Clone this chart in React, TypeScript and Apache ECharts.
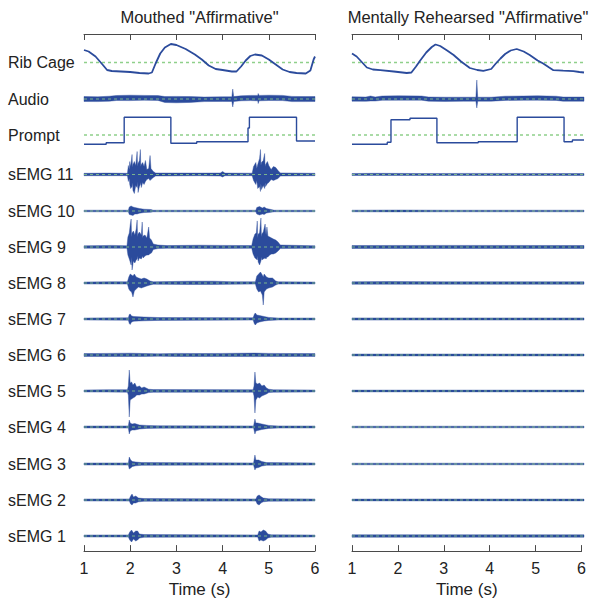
import React, { useEffect, useRef } from "react";
import * as echarts from "echarts";

// ---------- data ----------
const TICKS = [1, 2, 3, 4, 5, 6];
const ROW_LABELS = ["Rib Cage", "Audio", "Prompt", "sEMG 11", "sEMG 10", "sEMG 9", "sEMG 8", "sEMG 7", "sEMG 6", "sEMG 5", "sEMG 4", "sEMG 3", "sEMG 2", "sEMG 1"];
const TITLES = ['Mouthed "Affirmative"', 'Mentally Rehearsed "Affirmative"'];

// Rib cage traces [t, value]
const RIB_L = [[1,12.5],[1.1,11],[1.25,6],[1.4,-2],[1.5,-7.5],[1.6,-8.5],[1.8,-9],[2.0,-9.5],[2.2,-10.5],[2.4,-11],[2.47,-10],[2.55,-1],[2.65,9],[2.75,15],[2.88,18.5],[3.0,17.5],[3.2,13.5],[3.4,8],[3.55,3],[3.7,-3],[3.85,-6.5],[4.0,-7.5],[4.2,-9],[4.3,-9],[4.4,-4],[4.5,2],[4.6,6.5],[4.7,8],[4.85,7],[5.0,3],[5.15,-2],[5.3,-7],[5.45,-9.5],[5.6,-10.5],[5.8,-11],[5.9,-8],[5.97,3],[6,6]];
const RIB_R = [[1,9],[1.1,6],[1.2,1],[1.32,-5],[1.45,-7],[1.61,-7.7],[1.9,-9],[2.18,-10.5],[2.28,-10],[2.38,-4],[2.47,2],[2.6,10],[2.72,15.5],[2.8,18],[2.9,16.5],[3.05,12],[3.19,7.5],[3.35,1],[3.54,-5.5],[3.7,-7.5],[3.83,-8.4],[4.0,-6.5],[4.1,-1],[4.2,4],[4.3,8.5],[4.42,12],[4.55,13.5],[4.7,11],[4.83,7.5],[5.0,2],[5.12,-1],[5.25,-5],[5.34,-7.7],[5.55,-8.2],[5.77,-8.7],[5.9,-9.5],[6,-10]];

// Prompt step traces [t, value]
const PROMPT_L = [[1,-9.3],[1.48,-9.3],[1.48,-7.7],[1.87,-7.7],[1.87,17.7],[2.88,17.7],[2.88,-8.3],[3.44,-8.3],[3.44,-6.7],[4.55,-6.7],[4.55,7],[4.58,7],[4.58,17.7],[5.6,17.7],[5.6,-6],[6,-6]];
const PROMPT_R = [[1,-9.3],[1.76,-9.3],[1.76,-7.3],[1.84,-7.3],[1.84,15.3],[2.25,15.3],[2.25,16.7],[2.83,16.7],[2.83,-7.7],[3.72,-7.7],[3.72,-6.7],[4.56,-6.7],[4.56,17.7],[5.57,17.7],[5.57,-6.7],[5.75,-6.7],[5.75,-5],[6,-5]];

// Envelopes [t, up, down]
const AUDIO_L = [[1,2.5,2.5],[1.3,2.2,2.6],[1.55,2.8,2.2],[1.7,3.5,1.5],[2.0,3.8,1.6],[2.3,3.6,1.2],[2.6,3.4,1.4],[2.75,2.5,3.5],[3.0,2.6,3.8],[3.3,2.4,3.4],[3.6,2,2.6],[4.0,2.2,2.4],[4.2,2.2,2.5],[4.22,10,8],[4.24,2.4,2.5],[4.4,3.2,1.8],[4.6,3.6,1.6],[4.76,3.6,1.8],[4.77,5.5,4.5],[4.79,3.6,1.8],[5.0,3.8,1.5],[5.3,3.6,1.6],[5.5,2.6,2.6],[5.8,2.4,2.6],[6,2.5,2.5]];
const AUDIO_R = [[1,2.2,2.2],[1.3,2,2.3],[1.4,3,2],[1.5,2,2],[1.65,3,1.3],[2.0,3.2,1.2],[2.5,3,1.2],[2.65,2,2.2],[3.0,1.8,2.4],[3.4,1.8,2.2],[3.67,1.8,2.2],[3.69,19,9],[3.71,1.8,2.2],[4.0,1.8,2.2],[4.3,2.8,1.4],[4.7,3,1.3],[5.0,3.2,1.2],[5.4,2.8,1.4],[5.55,2,2.2],[6,2,2.2]];

const EMG11_L = [[1,1.2,1.2],[1.5,1.4,1.2],[1.94,1.2,1.2],[1.96,9,7],[1.98,5,4],[1.99,13,10],[2.01,8,14],[2.04,20,12],[2.05,7,8],[2.06,10,16],[2.09,13,19],[2.12,9,11],[2.15,23,13],[2.16,8,7],[2.17,11,18],[2.2,14,12],[2.22,25,10],[2.23,8,8],[2.24,10,13],[2.27,12,8],[2.3,8,10],[2.33,14,7],[2.36,5,5],[2.4,6,4],[2.43,19,6],[2.45,6,5],[2.5,3,3],[2.55,1.5,1.5],[3.5,1.4,1.2],[3.95,1.5,1.5],[4.0,3,2.5],[4.05,1.4,1.2],[4.64,1.3,1.2],[4.67,8,6],[4.72,12,10],[4.74,6,6],[4.76,10,14],[4.8,16,12],[4.82,25,17],[4.83,9,9],[4.84,12,15],[4.88,14,11],[4.91,21,14],[4.92,8,8],[4.93,10,12],[4.97,13,9],[5.0,9,8],[5.05,5,5],[5.1,8,6],[5.15,7,5],[5.2,4,4],[5.25,1.6,1.5],[6,1.2,1.2]];
const EMG10_L = [[1,0.8,0.8],[1.96,0.8,0.8],[1.98,4,3.5],[2.02,5,4],[2.06,4,4.5],[2.1,3.5,3],[2.15,3,3],[2.2,2.5,2.2],[2.3,1.8,1.5],[2.45,1.5,1.2],[2.5,0.8,0.8],[4.72,0.8,0.8],[4.74,3.5,3],[4.8,4.5,4],[4.86,3,3],[4.9,4,3.5],[4.95,2.5,2],[5.05,1.5,1.2],[5.12,0.8,0.8],[6,0.8,0.8]];
const EMG9_L = [[1,1.2,1.2],[1.6,1.6,1.3],[1.93,1.3,1.3],[1.95,10,8],[1.98,14,12],[2.0,22,15],[2.02,28,18],[2.03,10,10],[2.04,14,23],[2.07,16,14],[2.1,12,16],[2.13,18,13],[2.15,27,12],[2.16,10,9],[2.17,13,14],[2.2,15,11],[2.24,12,12],[2.26,25,10],[2.27,9,9],[2.28,11,11],[2.32,12,9],[2.36,9,8],[2.4,20,8],[2.42,9,7],[2.46,7,6],[2.5,3,2.5],[2.6,2,1.6],[2.8,1.4,1.3],[3.5,1.8,1.4],[4.0,1.6,1.4],[4.63,1.4,1.3],[4.66,8,7],[4.7,13,11],[4.73,14,12],[4.75,26,13],[4.76,9,9],[4.77,13,15],[4.8,14,18],[4.83,29,14],[4.84,10,10],[4.85,13,13],[4.88,15,12],[4.92,23,11],[4.94,12,12],[4.96,20,10],[4.98,11,10],[5.02,10,8],[5.06,9,7],[5.1,8,7],[5.15,7,6],[5.2,5,4],[5.25,2,1.6],[6,1.2,1.2]];
const EMG8_L = [[1,1,1],[1.6,1.3,1.1],[1.94,1.2,1.1],[1.97,6,6],[2.0,9,8],[2.03,8,9],[2.06,7,14],[2.09,9,8],[2.13,6,6],[2.18,5,4],[2.24,4,5],[2.3,5,4],[2.36,4,3],[2.43,2,2],[2.5,1.2,1.2],[3.3,1.8,1.5],[3.8,1.8,1.4],[4.2,1.3,1.2],[4.71,1.2,1.1],[4.74,7,6],[4.78,9,9],[4.82,11,8],[4.86,8,12],[4.88,6,22],[4.9,9,9],[4.95,6,6],[5.0,5,5],[5.08,5,4],[5.15,2,2],[5.2,1.2,1.1],[6,1,1]];
const EMG7_L = [[1,1,1],[1.96,1.2,1.2],[1.98,4.5,4.5],[2.0,5,5.5],[2.03,3,3],[2.08,2.5,2.2],[2.3,2,1.8],[2.6,1.5,1.4],[4.66,1.2,1.1],[4.69,5,5],[4.71,6,6],[4.74,4,4],[4.8,3.5,3],[4.9,2.5,2],[5.0,1.6,1.4],[5.2,1,1],[6,1,1]];
const EMG6_L = [[1,1.4,1.4],[1.5,1.6,1.5],[2.0,1.8,1.5],[2.3,1.5,1.4],[2.6,1.2,1.2],[3.0,1.6,1.5],[3.6,1.5,1.5],[4.0,1.6,1.4],[4.7,1.9,1.6],[5.0,1.6,1.5],[6,1.4,1.4]];
const EMG5_L = [[1,1,1],[1.5,1.3,1.1],[1.94,1.3,1.2],[1.96,5,4],[1.98,21,26],[2.0,8,9],[2.03,9,8],[2.06,6,7],[2.1,8,6],[2.14,4,4],[2.2,5,4],[2.25,3,3],[2.3,4,3],[2.4,1.8,1.6],[2.5,1.4,1.3],[4.66,1.3,1.2],[4.68,5,5],[4.7,19,22],[4.72,8,9],[4.76,7,6],[4.8,8,7],[4.85,5,5],[4.9,6,4],[4.95,3,3],[5.0,1.8,1.6],[5.1,1.2,1.2],[6,1,1]];
const EMG4_L = [[1,1,1],[1.96,1.1,1.1],[1.98,7,7],[2.0,4,4],[2.04,3,3],[2.1,3.5,3],[2.2,2,2],[2.35,1.6,1.4],[2.6,1.2,1.2],[4.67,1.1,1.1],[4.7,8,7],[4.72,4,4],[4.76,4,3.5],[4.85,3,2.5],[5.0,1.6,1.4],[5.2,1.1,1.1],[6,1,1]];
const EMG3_L = [[1,1,1],[1.96,1.1,1.1],[1.98,7,5],[2.01,4,4],[2.05,2.5,2.5],[2.12,2,1.8],[2.25,1.4,1.3],[4.67,1.1,1.1],[4.7,9,6],[4.72,4,4],[4.78,4,3.5],[4.85,2.5,2],[4.95,1.4,1.3],[6,1,1]];
const EMG2_L = [[1,1,1],[1.98,1.1,1.1],[2.01,4,4],[2.04,6,5],[2.07,3,3],[2.12,4,3],[2.18,2,1.8],[2.3,1.4,1.3],[4.72,1.1,1.1],[4.75,4,4],[4.79,5,5],[4.83,3.5,3],[4.88,2,1.8],[5.0,1.2,1.2],[6,1,1]];
const EMG1_L = [[1,1,1],[1.96,1.1,1.1],[1.99,4,4],[2.03,6,6],[2.07,3,3],[2.12,5,5],[2.16,5,4],[2.2,2,2],[2.3,1.4,1.3],[4.76,1.1,1.1],[4.79,5,5],[4.83,4,4],[4.88,6,5],[4.93,5,4],[4.98,2,2],[5.05,1.2,1.2],[6,1,1]];

const EMG11_R = [[1,1,1],[1.5,1.2,1],[2.5,1,1],[3.5,1.1,1],[6,1,1]];
const EMG10_R = [[1,0.8,0.8],[2.0,1,0.9],[3,0.8,0.8],[6,0.8,0.8]];
const EMG9_R = [[1,1.5,1.5],[3,1.6,1.5],[6,1.5,1.5]];
const EMG8_R = [[1,1.2,1.2],[1.8,1.4,1.2],[3,1.2,1.2],[6,1.2,1.2]];
const EMG7_R = [[1,1.1,1.1],[6,1.1,1.1]];
const EMG6_R = [[1,1,1],[6,1,1]];
const EMG5_R = [[1,0.9,0.9],[6,0.9,0.9]];
const EMG4_R = [[1,0.8,0.8],[6,0.8,0.8]];
const EMG3_R = [[1,0.8,0.8],[6,0.8,0.8]];
const EMG2_R = [[1,0.9,0.9],[3,1,0.9],[6,0.9,0.9]];
const EMG1_R = [[1,1.2,1.2],[6,1.2,1.2]];

// ---------- layout ----------
const ROW_Y = [62.5, 99, 135, 174.5, 211, 247, 283, 319, 355, 391, 427, 464, 500, 536];
const PANEL_X = [84, 352];
const PANEL_W = [231, 232];
const AXIS_TOP = 34;
const AXIS_BOTTOM = 560;
const BLUE = "#2b4b9c";
const GREEN = "#8fd08a";
const FONT = "'Liberation Sans', Arial, sans-serif";

type Row = { kind: "line" | "band"; data: number[][] };

const PANELS: Row[][] = [
  [
    { kind: "line", data: RIB_L },
    { kind: "band", data: AUDIO_L },
    { kind: "line", data: PROMPT_L },
    { kind: "band", data: EMG11_L },
    { kind: "band", data: EMG10_L },
    { kind: "band", data: EMG9_L },
    { kind: "band", data: EMG8_L },
    { kind: "band", data: EMG7_L },
    { kind: "band", data: EMG6_L },
    { kind: "band", data: EMG5_L },
    { kind: "band", data: EMG4_L },
    { kind: "band", data: EMG3_L },
    { kind: "band", data: EMG2_L },
    { kind: "band", data: EMG1_L },
  ],
  [
    { kind: "line", data: RIB_R },
    { kind: "band", data: AUDIO_R },
    { kind: "line", data: PROMPT_R },
    { kind: "band", data: EMG11_R },
    { kind: "band", data: EMG10_R },
    { kind: "band", data: EMG9_R },
    { kind: "band", data: EMG8_R },
    { kind: "band", data: EMG7_R },
    { kind: "band", data: EMG6_R },
    { kind: "band", data: EMG5_R },
    { kind: "band", data: EMG4_R },
    { kind: "band", data: EMG3_R },
    { kind: "band", data: EMG2_R },
    { kind: "band", data: EMG1_R },
  ],
];

function buildOption() {
  const grid: any[] = [];
  const xAxis: any[] = [];
  const yAxis: any[] = [];
  const series: any[] = [];
  const graphic: any[] = [];

  PANELS.forEach((rows, p) => {
    rows.forEach((row, r) => {
      const gi = grid.length;
      grid.push({ left: PANEL_X[p], width: PANEL_W[p], top: ROW_Y[r] - 20, height: 40 });
      const xi = xAxis.length;
      xAxis.push({ gridIndex: gi, type: "value", min: 1, max: 6, show: false });
      const yi = yAxis.length;
      yAxis.push({ gridIndex: gi, type: "value", min: -20, max: 20, show: false });
      const env = row.data;
      if (row.kind === "line") {
        series.push({
          type: "line", xAxisIndex: xi, yAxisIndex: yi, data: [[1, 0], [6, 0]],
          symbol: "none", silent: true, z: 2,
          lineStyle: { color: GREEN, width: 1.4, type: [3, 3] },
        });
        series.push({
          type: "line", xAxisIndex: xi, yAxisIndex: yi, data: env,
          symbol: "none", silent: true, z: 3, clip: false,
          lineStyle: { color: BLUE, width: r === 0 ? 1.8 : 1.4 },
        });
      } else {
        series.push({
          type: "custom", xAxisIndex: xi, yAxisIndex: yi, data: [[1, 0]],
          silent: true, z: 2, clip: false,
          renderItem: (_params: any, api: any) => {
            const up = env.map((e) => api.coord([e[0], e[1]]));
            const dn = env.slice().reverse().map((e) => api.coord([e[0], -e[2]]));
            return {
              type: "polygon",
              shape: { points: up.concat(dn) },
              style: { fill: BLUE, stroke: BLUE, lineWidth: 0.4 },
            };
          },
        });
        series.push({
          type: "line", xAxisIndex: xi, yAxisIndex: yi, data: [[1, 0], [6, 0]],
          symbol: "none", silent: true, z: 4,
          lineStyle: { color: GREEN, width: 1.2, type: [3, 3], opacity: 0.8 },
        });
      }
    });

    // axes grid
    const ai = grid.length;
    grid.push({ left: PANEL_X[p], width: PANEL_W[p], top: AXIS_TOP, height: AXIS_BOTTOM - AXIS_TOP });
    const bi = xAxis.length;
    xAxis.push({
      gridIndex: ai, type: "value", min: TICKS[0], max: TICKS[TICKS.length - 1], interval: 1, position: "bottom",
      axisLine: { lineStyle: { color: "#4a4a4a", width: 1 } },
      axisTick: { inside: true, length: 6, lineStyle: { color: "#4a4a4a" } },
      axisLabel: { color: "#222", fontSize: 16, fontFamily: FONT, margin: 9 },
      splitLine: { show: false },
      name: "Time (s)", nameLocation: "middle", nameGap: 25,
      nameTextStyle: { color: "#222", fontSize: 17, fontFamily: FONT },
    });
    const ti = xAxis.length;
    xAxis.push({
      gridIndex: ai, type: "value", min: TICKS[0], max: TICKS[TICKS.length - 1], interval: 1, position: "top",
      axisLine: { lineStyle: { color: "#4a4a4a", width: 1 } },
      axisTick: { inside: true, length: 6, lineStyle: { color: "#4a4a4a" } },
      axisLabel: { show: false },
      splitLine: { show: false },
    });
    const ayi = yAxis.length;
    yAxis.push({ gridIndex: ai, type: "value", min: 0, max: 1, show: false });
    series.push({ type: "line", xAxisIndex: bi, yAxisIndex: ayi, data: [], silent: true });
    series.push({ type: "line", xAxisIndex: ti, yAxisIndex: ayi, data: [], silent: true });

    graphic.push({
      type: "text", x: PANEL_X[p] + PANEL_W[p] / 2, y: 17,
      style: { text: TITLES[p], fill: "#222", font: `16.5px ${FONT}`, textAlign: "center", textVerticalAlign: "middle" },
    });
  });

  ROW_LABELS.forEach((label, r) => {
    graphic.push({
      type: "text", x: 8, y: ROW_Y[r],
      style: { text: label, fill: "#222", font: `16px ${FONT}`, textAlign: "left", textVerticalAlign: "middle" },
    });
  });

  return { animation: false, backgroundColor: "#ffffff", grid, xAxis, yAxis, series, graphic };
}

export default function App() {
  const ref = useRef<HTMLDivElement>(null);
  useEffect(() => {
    if (!ref.current) return;
    const chart = echarts.init(ref.current, undefined, { renderer: "svg" });
    chart.setOption(buildOption() as any);
    return () => chart.dispose();
  }, []);
  return <div ref={ref} style={{ position: "absolute", left: 0, top: 0, width: 589, height: 603 }} />;
}
